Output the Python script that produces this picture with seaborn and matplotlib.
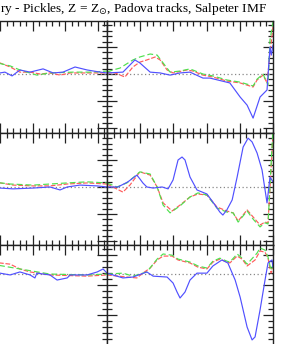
import matplotlib

matplotlib.use("Agg")
import matplotlib.pyplot as plt
import matplotlib.ticker as mticker
import seaborn as sns

# ─────────────────────────────────────────────
# data (arbitrary units)
# ─────────────────────────────────────────────
# row 1, left panel
r1l_blue_x = [-0.46, 0, 0.15, 0.37, 0.61, 0.92, 1.32, 1.63, 1.93, 2.30, 2.67, 3.07, 3.28]
r1l_blue_y = [0.07, 0.04, 0.07, -0.07, 0.15, 0.07, 0.19, 0.04, 0.07, 0.26, 0.15, 0.07, 0.04]
r1l_red_x = [-0.46, 0, 0.31, 0.61, 0.92, 1.23, 1.53, 1.84, 2.15, 2.67, 3.07, 3.28]
r1l_red_y = [0.59, 0.41, 0.26, 0.07, 0.07, 0.0, 0.04, -0.04, 0.04, 0.04, 0.04, 0.04]
r1l_green_x = [-0.46, 0.31, 0.61, 1.13, 1.53, 2.24, 2.85, 3.28]
r1l_green_y = [0.52, 0.30, 0.15, -0.04, 0.04, 0.07, 0.07, 0.11]

# row 1, right panel
r1r_blue_x = [0, 0.48, 0.84, 0.99, 1.30, 1.60, 1.90, 2.20, 2.50, 2.89, 3.10, 3.70,
              4.01, 4.22, 4.40, 4.61, 4.82, 4.91, 4.95, 5.0]
r1r_blue_y = [0.04, 0.07, 0.52, 0.41, 0.07, 0.04, -0.04, 0.04, 0.07, -0.15, -0.15, -0.33,
              -0.85, -1.15, -1.63, -0.85, -0.59, 1.0, 0.70, 1.07]
r1r_red_x = [0, 0.24, 0.54, 0.78, 0.99, 1.20, 1.45, 1.60, 1.81, 1.99, 2.41, 2.59, 2.89,
             3.19, 3.61, 4.01, 4.40, 4.52, 4.70, 4.82, 4.91, 5.0]
r1r_red_y = [0.04, 0.04, -0.11, 0.26, 0.44, 0.52, 0.63, 0.52, 0.15, 0.04, 0.15, 0.11, -0.04,
             -0.11, -0.26, -0.33, -0.48, -0.22, -0.04, -0.33, 0.78, 1.74]
r1r_green_x = [0, 0.18, 0.39, 0.78, 0.99, 1.30, 1.51, 1.69, 1.90, 2.20, 2.50, 2.89, 3.19,
               3.61, 4.01, 4.40, 4.52, 4.70, 4.85, 4.91, 5.0]
r1r_green_y = [0.07, 0.15, 0.22, 0.52, 0.63, 0.74, 0.70, 0.41, 0.07, 0.11, 0.19, 0.0, -0.07,
               -0.22, -0.30, -0.44, -0.19, 0.0, -0.41, 1.26, 1.93]

# row 2, left panel
r2l_blue_x = [-0.46, 0, 0.40, 1.01, 1.53, 1.84, 2.06, 2.45, 2.98, 3.28]
r2l_blue_y = [-0.04, -0.04, -0.07, -0.04, 0.0, -0.11, 0.0, 0.07, 0.04, 0.0]
r2l_red_x = [-0.46, 0, 0.40, 1.01, 1.53, 2.06, 2.67, 3.28]
r2l_red_y = [0.19, 0.15, 0.07, 0.04, 0.04, 0.11, 0.15, 0.11]
r2l_green_x = [-0.46, 0.31, 1.01, 2.06, 2.67, 3.28]
r2l_green_y = [0.22, 0.11, 0.07, 0.15, 0.19, 0.15]

# row 2, right panel
r2r_blue_x = [0, 0.33, 0.63, 0.90, 0.99, 1.08, 1.20, 1.39, 1.66, 1.84, 1.99, 2.14, 2.26,
              2.35, 2.50, 2.71, 3.01, 3.19, 3.40, 3.49, 3.61, 3.77, 3.92, 4.10, 4.25,
              4.37, 4.52, 4.67, 4.82, 4.91, 5.0]
r2r_blue_y = [0.0, 0.0, 0.19, 0.44, 0.30, 0.15, 0.0, -0.04, 0.0, -0.07, 0.26, 1.0, 1.11,
              1.0, 0.37, -0.11, -0.26, -0.56, -0.93, -1.04, -0.85, -0.48, 0.37, 1.48, 1.81,
              1.67, 1.26, 0.63, -0.59, 0.37, 0.19]
r2r_red_x = [0, 0.24, 0.48, 0.69, 0.99, 1.30, 1.51, 1.69, 1.96, 2.20, 2.50, 2.74, 3.01,
             3.31, 3.61, 3.80, 3.95, 4.22, 4.40, 4.61, 4.76, 4.85, 4.97, 5.0]
r2r_red_y = [0.11, -0.04, -0.19, 0.07, 0.56, 0.44, 0.0, -0.59, -0.89, -0.67, -0.37, -0.26,
             -0.30, -0.74, -0.89, -0.96, -1.26, -0.85, -1.11, -1.41, -1.30, -1.33, 1.26, 2.0]
r2r_green_x = [0, 0.30, 0.60, 0.99, 1.30, 1.51, 1.69, 1.90, 2.20, 2.50, 2.74, 3.01, 3.31,
               3.61, 3.80, 3.95, 4.22, 4.40, 4.61, 4.76, 4.85, 4.97, 5.0]
r2r_green_y = [0.15, 0.0, 0.15, 0.56, 0.48, 0.0, -0.67, -0.96, -0.70, -0.37, -0.22, -0.30,
               -0.78, -0.93, -0.96, -1.30, -0.89, -1.19, -1.48, -1.33, -1.37, 1.48, 2.2]

# row 3, left panel
r3l_blue_x = [-0.46, 0, 0.31, 0.61, 0.92, 1.07, 1.13, 1.53, 1.75, 2.06, 2.15, 2.67, 2.98,
              3.16, 3.28]
r3l_blue_y = [0.0, 0.03, -0.03, 0.07, -0.03, -0.13, 0.03, -0.03, -0.20, -0.13, -0.03, -0.03,
              0.07, 0.17, 0.03]
r3l_red_x = [-0.46, 0, 0.31, 0.61, 0.92, 1.53, 2.67, 3.28]
r3l_red_y = [0.40, 0.37, 0.33, 0.17, 0.07, -0.03, -0.07, -0.03]
r3l_green_x = [-0.46, 0.61, 1.53, 2.67, 3.28]
r3l_green_y = [0.37, 0.17, 0.0, -0.03, 0.0]

# row 3, right panel
r3r_blue_x = [0, 0.48, 0.78, 1.20, 1.39, 1.81, 1.99, 2.11, 2.20, 2.35, 2.50, 2.71, 3.01,
              3.19, 3.46, 3.64, 3.86, 4.01, 4.22, 4.37, 4.46, 4.61, 4.76, 4.85, 4.97, 5.0]
r3r_blue_y = [0.03, -0.13, -0.10, 0.07, -0.07, -0.10, -0.30, -0.60, -0.80, -0.60, -0.20,
              0.03, 0.03, 0.27, 0.47, 0.37, -0.20, -0.77, -1.77, -2.20, -2.10, -1.20, -0.20,
              0.37, 0.47, 0.23]
r3r_red_x = [0, 0.60, 0.90, 1.08, 1.30, 1.51, 1.69, 1.96, 2.14, 2.50, 2.74, 3.01, 3.19,
             3.40, 3.61, 3.70, 3.92, 4.07, 4.22, 4.46, 4.61, 4.76, 4.85, 4.94, 5.0]
r3r_red_y = [-0.03, -0.10, -0.13, 0.03, 0.20, 0.47, 0.60, 0.60, 0.47, 0.37, 0.23, 0.17,
             0.40, 0.50, 0.40, 0.37, 0.60, 0.50, 0.27, 0.47, 0.77, 0.73, 0.53, 0.03, 0.20]
r3r_green_x = [0, 0.48, 0.78, 1.20, 1.51, 1.69, 1.96, 2.14, 2.50, 2.74, 3.01, 3.19, 3.40,
               3.61, 3.70, 3.92, 4.07, 4.22, 4.52, 4.61, 4.76, 4.85, 4.94, 5.0]
r3r_green_y = [0.0, 0.03, -0.07, 0.07, 0.50, 0.67, 0.63, 0.50, 0.40, 0.27, 0.20, 0.43,
               0.53, 0.43, 0.40, 0.67, 0.53, 0.33, 0.70, 0.87, 0.80, 0.57, 0.13, 0.30]

panels = [
    # (row, col, [(x, y), ...] for red, green, blue)
    (0, 0, [(r1l_red_x, r1l_red_y), (r1l_green_x, r1l_green_y), (r1l_blue_x, r1l_blue_y)]),
    (0, 1, [(r1r_red_x, r1r_red_y), (r1r_green_x, r1r_green_y), (r1r_blue_x, r1r_blue_y)]),
    (1, 0, [(r2l_red_x, r2l_red_y), (r2l_green_x, r2l_green_y), (r2l_blue_x, r2l_blue_y)]),
    (1, 1, [(r2r_red_x, r2r_red_y), (r2r_green_x, r2r_green_y), (r2r_blue_x, r2r_blue_y)]),
    (2, 0, [(r3l_red_x, r3l_red_y), (r3l_green_x, r3l_green_y), (r3l_blue_x, r3l_blue_y)]),
    (2, 1, [(r3r_red_x, r3r_red_y), (r3r_green_x, r3r_green_y), (r3r_blue_x, r3r_blue_y)]),
]

x_limits = [(-1.81, 3.28), (0.0, 5.0)]
y_limits = [(-2.18, 1.96), (-2.15, 2.0), (-2.77, 0.97)]
y_offsets = [0.0, 0.0, 0.633]

line_styles = [
    {"color": "#ff5a5a", "linestyle": (0, (4, 1.5))},
    {"color": "#4ee04e", "linestyle": (0, (5, 2.5))},
    {"color": "#5050ff", "linestyle": "-"},
]

# ─────────────────────────────────────────────
# figure
# ─────────────────────────────────────────────
sns.set_theme(style="ticks")
W, H = 295, 344
fig = plt.figure(figsize=(W / 100, H / 100), dpi=100)

col_left = [-59, 107]
col_w = 166
row_top = [21, 133, 245]
row_h = 112

for row, col, series in panels:
    ax = fig.add_axes(
        [col_left[col] / W, (H - row_top[row] - row_h) / H, col_w / W, row_h / H]
    )
    ax.set_facecolor("white")
    ax.axhline(0, color="#888888", linestyle=(0, (1, 2)), linewidth=0.9, zorder=1)
    for (xs, ys), st in zip(series, line_styles):
        sns.lineplot(
            x=xs, y=ys, ax=ax, sort=False, estimator=None,
            color=st["color"], linestyle=st["linestyle"], linewidth=0.85, zorder=2,
        )
    ax.set_xlim(*x_limits[col])
    ax.set_ylim(*y_limits[row])
    ax.xaxis.set_major_locator(mticker.MultipleLocator(1.0))
    ax.xaxis.set_minor_locator(mticker.MultipleLocator(0.2))
    ax.yaxis.set_major_locator(mticker.MultipleLocator(1.0, offset=y_offsets[row]))
    ax.yaxis.set_minor_locator(mticker.MultipleLocator(0.2, offset=y_offsets[row]))
    ax.tick_params(which="both", direction="in", top=True, right=True,
                   labelbottom=False, labelleft=False, color="#222222", width=0.9)
    ax.tick_params(which="major", length=7)
    ax.tick_params(which="minor", length=3.5)
    for sp in ax.spines.values():
        sp.set_color("#222222")
        sp.set_linewidth(1.0)
    ax.set_xlabel("")
    ax.set_ylabel("")

fig.text(
    0.0, (H - 9) / H,
    r"ry - Pickles, Z = Z$_{\odot}$, Padova tracks, Salpeter IMF",
    ha="left", va="center", fontsize=9.6, family="Liberation Serif", color="black",
)

fig.savefig("out.png", dpi=100)
